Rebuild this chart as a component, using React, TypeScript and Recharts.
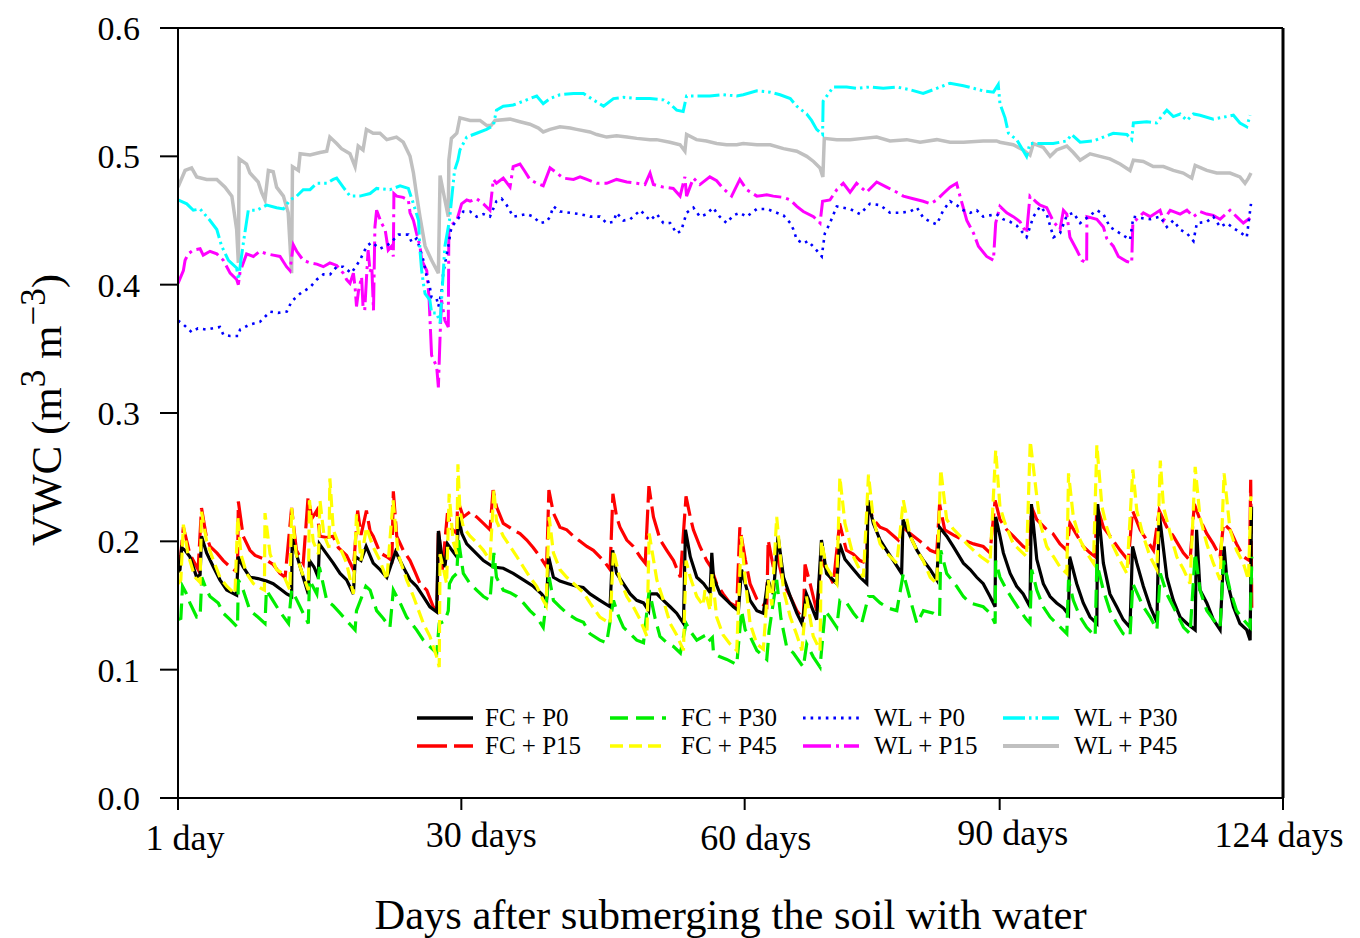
import React from 'react';
import { LineChart, Line, XAxis, YAxis, ReferenceLine, Legend, Label } from 'recharts';

type Pt = [number, number];

// x = record number (0..390), y = VWC (m3 m-3)
const X_TICKS = [0, 100, 200, 290, 390];
const X_TICK_LABELS = ['1 day', '30 days', '60 days', '90 days', '124 days'];
const Y_TICKS = [0, 0.1, 0.2, 0.3, 0.4, 0.5, 0.6];

const FC_P0: Pt[] = [[0,.176],[0.7,.178],[1.3,.195],[2.5,.193],[4.2,.188],[6.6,.172],[7.8,.174],[8.3,.204],[10.1,.191],[12.5,.18],[14.8,.17],[17.2,.162],[20.7,.158],[21.2,.188],[23,.18],[25.4,.172],[28.2,.171],[31.3,.169],[33.6,.167],[36,.163],[38.4,.159],[40.1,.157],[40.3,.202],[41.8,.19],[44.2,.172],[46,.159],[46.4,.185],[48,.18],[49.5,.172],[49.9,.198],[52.5,.19],[54.8,.183],[57.2,.175],[59.5,.17],[61.9,.159],[62.6,.188],[64.6,.185],[66.4,.196],[68.9,.183],[71.3,.178],[73.7,.172],[76.8,.192],[79.5,.18],[81.9,.17],[84.2,.165],[86.6,.157],[88.9,.149],[91.3,.145],[91.9,.208],[93,.19],[94.2,.18],[95.1,.198],[96.7,.193],[98.4,.188],[99,.219],[100.2,.206],[101.9,.198],[104.2,.193],[107.8,.185],[111.3,.18],[114.8,.179],[118.3,.175],[121.9,.17],[125.4,.165],[128.3,.159],[130.1,.154],[130.8,.188],[132.5,.172],[134.8,.169],[137.7,.167],[140.7,.165],[143,.164],[145.4,.159],[148.9,.154],[152.5,.149],[153.4,.193],[154.8,.175],[157.2,.167],[159.6,.159],[161.9,.154],[164.3,.152],[166.1,.146],[166.5,.159],[169,.159],[171.3,.154],[173.7,.149],[176,.144],[178.4,.136],[179.1,.209],[180.8,.188],[183.1,.172],[185.5,.167],[187.8,.16],[188.4,.191],[189,.172],[191.3,.159],[193.7,.154],[196,.149],[197.8,.146],[198.9,.178],[200.2,.167],[201.9,.154],[204.3,.146],[206.6,.144],[208.2,.17],[210.1,.159],[211.8,.204],[213.7,.172],[216.1,.157],[218.4,.144],[220.2,.136],[221.8,.159],[223.6,.149],[225.4,.139],[227.1,.201],[228.9,.175],[232.5,.167],[233.5,.198],[235.4,.186],[238.4,.178],[240.7,.172],[243.1,.167],[243.5,.232],[245.4,.214],[247.8,.201],[250.1,.193],[252.5,.185],[255.4,.175],[255.9,.217],[258.4,.204],[260.8,.193],[263.1,.185],[265.5,.178],[267.8,.17],[268.8,.211],[271.3,.204],[273.6,.196],[277.2,.183],[279.6,.178],[281.9,.172],[284.2,.167],[286.6,.157],[288.4,.149],[288.6,.219],[290.1,.204],[291.3,.191],[293.7,.175],[296,.165],[298.3,.159],[300.7,.149],[301.2,.229],[303.1,.186],[305.4,.167],[307.8,.157],[310.1,.152],[312.5,.148],[314.3,.143],[314.7,.188],[317.2,.167],[319.5,.152],[321.9,.141],[324.3,.136],[324.6,.229],[326.6,.183],[328.9,.159],[331.3,.149],[333.6,.139],[336,.133],[336.9,.196],[338.4,.183],[340.7,.165],[343.1,.149],[345.5,.137],[346.3,.222],[349,.172],[351.3,.154],[353.7,.141],[356.1,.136],[359,.131],[359.5,.209],[360.7,.162],[363.1,.152],[365.4,.139],[367.8,.131],[369.2,.196],[370.2,.17],[372.5,.149],[374.8,.136],[377.2,.131],[378.4,.123],[378.9,.227]];

const FC_P15: Pt[] = [[0,.178],[1,.19],[1.9,.211],[4.2,.19],[7.1,.178],[8.3,.226],[9.9,.205],[11.3,.196],[13.7,.191],[16,.185],[18.9,.179],[21,.176],[21.3,.231],[23,.204],[25.4,.193],[27.2,.189],[30.7,.186],[33.6,.182],[36,.175],[37.8,.172],[40.1,.226],[41.8,.193],[44.2,.183],[45.9,.234],[47.3,.218],[49,.224],[50.1,.204],[52.5,.203],[54.7,.204],[56.6,.195],[59.5,.189],[61.9,.178],[63.4,.224],[64.6,.205],[66.5,.224],[67.8,.208],[68.9,.204],[71.3,.191],[73.7,.188],[75.5,.185],[76,.239],[77.2,.204],[79.5,.193],[81.9,.185],[83.7,.176],[85.4,.167],[87.8,.162],[90.1,.149],[91.4,.146],[91.9,.21],[93.3,.178],[95.1,.222],[96.5,.21],[98.4,.206],[98.7,.232],[100.7,.219],[103.1,.223],[105.4,.219],[107.8,.214],[110.1,.209],[111.2,.24],[112.4,.227],[114.8,.214],[118.3,.209],[120.7,.206],[123.1,.201],[125.4,.195],[127.8,.188],[130.1,.18],[130.9,.24],[132.5,.222],[134.8,.211],[137.2,.209],[139.6,.204],[141.9,.2],[144.3,.196],[146.6,.193],[150.2,.185],[152.5,.178],[153.5,.237],[154.8,.219],[156,.211],[158.4,.201],[160.7,.196],[163.1,.188],[164.9,.183],[166.2,.243],[167.8,.219],[170.2,.201],[172.5,.193],[174.9,.185],[177.3,.172],[179.3,.235],[180.8,.219],[181.9,.209],[184.2,.196],[186.6,.185],[188.1,.18],[190.1,.167],[192.4,.159],[194.8,.152],[197.2,.149],[198.3,.211],[200.2,.186],[201.9,.167],[204.3,.155],[205.5,.152],[207.8,.149],[208.3,.201],[210.1,.18],[211.4,.19],[213.7,.167],[216.1,.157],[218.4,.146],[220.7,.139],[221.3,.182],[223.1,.167],[225.4,.146],[227,.185],[228.9,.178],[231.3,.167],[233.5,.214],[235.9,.193],[238.3,.19],[240.7,.185],[243.1,.183],[243.5,.229],[245.4,.217],[247.8,.211],[250.1,.209],[254.2,.201],[255.9,.211],[258.4,.206],[263.1,.198],[265.5,.193],[267.8,.191],[268.8,.229],[270.6,.209],[273.6,.205],[277.2,.201],[280.8,.198],[284.2,.196],[286.6,.191],[288.4,.232],[290.1,.217],[292.5,.209],[294.8,.204],[298.3,.196],[300.7,.193],[301.2,.227],[303.1,.217],[306.6,.209],[308.8,.206],[311.3,.198],[313.7,.193],[314.8,.214],[317.2,.205],[319.5,.196],[321.9,.191],[323.7,.188],[324.3,.228],[326.6,.211],[329,.204],[332.5,.193],[335.4,.185],[336.9,.224],[339.6,.209],[341.9,.201],[344.3,.193],[346.3,.224],[349,.211],[351.3,.204],[354.8,.191],[357.2,.185],[358.7,.229],[360.7,.217],[363.1,.206],[365.4,.198],[367.8,.188],[369,.214],[371.3,.209],[373.6,.198],[376,.188],[378.2,.185],[378.6,.248],[379,.145]];

const FC_P30: Pt[] = [[0,.139],[1,.14],[1.6,.165],[2.8,.16],[4.2,.152],[6.6,.141],[7.8,.141],[8.4,.172],[10.1,.162],[11.3,.157],[14.2,.152],[16,.144],[18.4,.139],[21,.133],[21.3,.17],[23,.162],[25.4,.146],[28.2,.141],[30.7,.136],[31.2,.162],[33.2,.155],[36,.145],[39,.136],[40.1,.162],[42,.154],[44.2,.144],[46,.136],[46.4,.17],[49,.159],[49.9,.18],[52.5,.154],[54.7,.15],[57.2,.144],[59.6,.138],[62.5,.131],[63,.146],[66.3,.165],[67.8,.162],[70.1,.146],[72.4,.14],[74.8,.133],[76,.162],[78.4,.152],[80.7,.141],[84.2,.131],[86.6,.123],[88.9,.118],[91.3,.113],[92.2,.136],[94.2,.138],[95.4,.146],[95.8,.167],[97,.172],[98.4,.175],[99,.201],[100.7,.175],[103.1,.167],[105.4,.162],[107.8,.157],[110.1,.154],[111.5,.191],[112.4,.172],[114.8,.162],[117.2,.16],[119.6,.157],[121.9,.152],[124.2,.146],[126.6,.141],[128.9,.133],[131,.172],[132.5,.154],[134.8,.149],[137.2,.144],[140.7,.139],[143.1,.137],[145.4,.128],[148.9,.123],[151.3,.121],[153.7,.154],[155.4,.142],[157.2,.133],[159.6,.128],[161.9,.123],[164.3,.121],[166.3,.162],[168.4,.14],[170.1,.126],[172.5,.121],[174.9,.118],[177.3,.113],[179.3,.136],[180.8,.13],[183.1,.123],[185.5,.126],[186.7,.121],[188.6,.125],[189,.113],[191.3,.11],[193.7,.108],[197.2,.104],[198.9,.146],[200.2,.131],[201.9,.126],[204.3,.115],[207.8,.108],[208.6,.13],[211.3,.17],[212.8,.14],[214.8,.118],[217.2,.113],[220.7,.102],[221.9,.12],[224.2,.11],[226.6,.102],[228.4,.146],[230.1,.141],[232.5,.133],[233.6,.154],[236,.152],[238.4,.144],[241.3,.136],[243.7,.157],[245.4,.157],[247.8,.152],[250.6,.148],[253.7,.146],[256,.175],[258.4,.155],[260.8,.136],[263.1,.146],[266.6,.144],[268.8,.141],[269.2,.193],[271.3,.175],[274.8,.165],[277.2,.157],[279.6,.152],[284.2,.149],[286.6,.144],[288.4,.136],[288.6,.185],[290.1,.172],[292.5,.162],[294.8,.154],[297.2,.146],[299.5,.139],[300.7,.136],[301.3,.178],[303.1,.162],[305.4,.149],[307.8,.141],[310.1,.136],[313.7,.128],[314.3,.17],[316,.154],[318.4,.141],[320.7,.133],[323.7,.126],[324.3,.183],[326.6,.162],[328.9,.146],[331.3,.136],[333.6,.128],[336,.126],[337,.167],[340.7,.149],[343.1,.141],[345.5,.131],[346.7,.175],[349,.159],[351.3,.149],[354.9,.133],[357.2,.128],[359,.191],[360.7,.162],[363.1,.146],[365.4,.139],[367.8,.133],[369,.185],[371.3,.162],[373.6,.146],[376,.139],[378.4,.133],[379,.188]];

const FC_P45: Pt[] = [[0,.167],[1,.17],[1.9,.213],[3.5,.19],[6,.172],[7.8,.168],[8.3,.223],[10.1,.2],[12.5,.185],[14.8,.172],[17.2,.165],[20.1,.159],[21.1,.219],[22.2,.19],[24.2,.175],[26.6,.167],[28.9,.164],[30.5,.162],[30.7,.222],[32.5,.19],[34.8,.178],[37,.175],[39.5,.162],[40.1,.226],[41.7,.19],[43.1,.18],[46,.162],[46.4,.232],[47.7,.2],[49.6,.19],[50.1,.232],[51.5,.205],[53.3,.195],[53.6,.249],[54.8,.209],[57.2,.195],[59.5,.183],[61.9,.159],[63,.221],[64.6,.185],[66.5,.211],[68.8,.196],[71.3,.185],[73.7,.17],[75.9,.232],[77.7,.19],[80.7,.17],[83.1,.157],[86.6,.136],[88.9,.126],[91.3,.11],[92.2,.102],[92.5,.19],[94.8,.167],[95.7,.237],[97.1,.2],[98.4,.19],[98.8,.26],[99.5,.224],[100.7,.211],[103.1,.204],[105.4,.199],[107.8,.193],[110.1,.185],[111.5,.24],[112.4,.216],[114.8,.204],[117.2,.196],[119.6,.188],[121.9,.18],[124.2,.172],[126.6,.165],[128.9,.154],[129.9,.15],[131,.219],[132.5,.191],[134.8,.178],[137.2,.172],[140.7,.165],[143.1,.16],[145.4,.152],[148.9,.141],[152.5,.136],[153.7,.193],[156,.17],[158.4,.157],[160.7,.149],[163.1,.139],[165.5,.126],[166.3,.206],[169,.17],[171.3,.154],[173.7,.136],[176,.127],[178.4,.115],[179.3,.185],[180.8,.172],[183.1,.157],[185.3,.15],[186,.162],[187.8,.146],[188.5,.175],[190.1,.141],[192.4,.127],[194.8,.12],[197.2,.115],[198.8,.204],[200.2,.17],[201.9,.136],[204.3,.12],[206.6,.116],[208.3,.17],[209.6,.15],[211.3,.219],[213.7,.162],[216.1,.141],[218.4,.127],[220.2,.115],[221.8,.157],[224.2,.126],[226.6,.115],[227.1,.2],[228.9,.18],[232.5,.167],[233.6,.25],[235.4,.214],[238.4,.188],[241.9,.172],[243.7,.252],[245.4,.217],[247.8,.198],[250.1,.191],[253.7,.183],[256,.232],[258.4,.204],[260.8,.193],[263,.185],[265.5,.172],[267.8,.167],[269.2,.256],[271.3,.217],[273.5,.21],[276,.204],[278.4,.198],[280.8,.193],[283.4,.188],[286.6,.183],[288.6,.271],[290.1,.227],[291.9,.214],[294.8,.198],[297.2,.193],[299.5,.188],[300.8,.278],[303.1,.235],[304.3,.214],[306.6,.196],[309,.188],[311.3,.18],[313.7,.175],[314.3,.253],[316,.219],[318.4,.201],[320.7,.191],[323.1,.183],[324.3,.275],[326.1,.227],[327.8,.211],[330.1,.196],[332.5,.185],[334.9,.175],[337,.256],[338.4,.224],[340.7,.204],[343.1,.188],[345.5,.178],[346.7,.263],[347.8,.227],[350.2,.206],[352.5,.188],[354.9,.178],[357.2,.167],[359,.258],[360.7,.219],[363.1,.198],[365.4,.183],[367.8,.17],[369.2,.253],[371.3,.209],[373.6,.193],[376,.183],[377.8,.17],[378.7,.235]];

const WL_P0: Pt[] = [[0,.372],[1.9,.369],[4.8,.363],[7,.366],[10.1,.365],[12.4,.366],[14.8,.367],[16,.361],[18.4,.36],[21.3,.36],[21.9,.365],[25.4,.369],[28.9,.371],[32.5,.379],[35.3,.378],[38.4,.379],[40.1,.387],[43.1,.393],[46.6,.398],[49,.404],[51.3,.408],[53.7,.408],[56,.414],[58.3,.414],[61.2,.409],[64.2,.419],[66.6,.43],[68.4,.433],[71.3,.428],[74.8,.432],[77.8,.439],[81.3,.439],[82.5,.433],[84.2,.436],[85.4,.428],[86.6,.419],[87.8,.406],[88.9,.398],[89.5,.39],[91.3,.389],[91.9,.383],[93,.394],[93.6,.409],[95.4,.43],[96.5,.445],[98.4,.45],[100.7,.457],[103.1,.457],[105.4,.453],[107.8,.455],[110.1,.453],[112.4,.465],[114.2,.467],[116,.462],[118.3,.453],[120.7,.454],[123.1,.455],[125.4,.453],[127.8,.448],[130.1,.449],[131.3,.453],[132.5,.461],[134.8,.457],[138.4,.456],[141.9,.455],[145.4,.453],[148.9,.453],[151.3,.448],[153.7,.449],[154.8,.456],[157.2,.45],[159.6,.451],[163.2,.458],[166.6,.45],[169,.455],[171.3,.448],[173.7,.448],[176,.44],[177.6,.442],[179.5,.456],[181.9,.46],[184.2,.453],[186.6,.455],[188.8,.46],[191.2,.453],[193.6,.448],[196,.454],[198.3,.456],[200.7,.453],[204.3,.459],[207.8,.459],[211.3,.456],[213.7,.454],[216.1,.448],[217.2,.443],[218.4,.435],[220.7,.432],[222.4,.434],[224.9,.428],[227.2,.422],[228.3,.44],[230.1,.448],[232.5,.461],[234.8,.46],[237.2,.459],[240.7,.455],[244.2,.463],[247.8,.462],[251.3,.456],[254.8,.456],[258.4,.457],[260.8,.46],[263.1,.452],[265.5,.449],[267.8,.447],[270.1,.458],[272.5,.465],[274.8,.462],[277.2,.458],[279.6,.456],[281.9,.458],[284.2,.453],[286.6,.454],[288.9,.455],[291.2,.451],[293.7,.449],[296,.446],[299.5,.437],[301.9,.453],[304.3,.461],[306.6,.455],[309,.437],[311.3,.44],[313.7,.454],[316,.456],[318.4,.448],[320.7,.452],[324.3,.458],[326.6,.455],[328.9,.445],[332.5,.44],[336,.435],[337.2,.453],[339.6,.452],[343.1,.451],[346.6,.453],[349,.445],[351.3,.45],[353.7,.443],[356.1,.44],[358.4,.434],[359.6,.448],[363.1,.449],[365.4,.453],[367.8,.445],[370.2,.448],[372.5,.444],[374.8,.441],[377.2,.437],[378.7,.463]];

const WL_P15: Pt[] = [[0,.401],[1.9,.411],[2.5,.419],[3.6,.424],[5.4,.427],[7.8,.428],[8.9,.423],[11.3,.426],[13.7,.424],[16,.419],[18.4,.409],[20.7,.404],[21.3,.4],[21.9,.41],[24.2,.424],[26.6,.422],[28.9,.426],[31.3,.424],[33.6,.423],[36,.422],[38.3,.414],[39.5,.411],[40.7,.431],[41.9,.426],[44.2,.419],[46.6,.417],[49,.416],[51.3,.414],[53.6,.417],[56,.415],[58.3,.409],[59.5,.404],[60.7,.401],[61.9,.409],[62.5,.398],[63,.383],[63.7,.395],[64.8,.406],[65.3,.383],[65.9,.38],[66.5,.404],[67.1,.427],[67.8,.41],[68.4,.414],[69,.38],[69.5,.445],[70.1,.458],[71.8,.448],[73.1,.443],[74.2,.427],[75.4,.43],[76,.422],[76.2,.471],[77.2,.469],[79.4,.468],[81.3,.466],[81.9,.456],[83.1,.45],[84.2,.44],[85.4,.43],[86,.419],[87.8,.411],[88.6,.39],[89.5,.345],[91.3,.336],[91.9,.32],[92.5,.36],[93,.388],[94.2,.372],[95.4,.367],[95.6,.445],[98.4,.45],[100.1,.463],[101.9,.466],[103.1,.465],[105.4,.467],[107.8,.463],[110.1,.458],[111.3,.482],[112.4,.479],[114.8,.483],[117.2,.476],[118.3,.492],[120.7,.494],[122.5,.488],[124.2,.482],[126.6,.479],[128.9,.477],[131.3,.491],[133.7,.487],[136,.483],[139.6,.482],[141.9,.484],[144.3,.482],[147.8,.479],[151.3,.479],[154.8,.482],[158.4,.48],[161.9,.479],[164.8,.478],[166.6,.487],[167.8,.478],[171.3,.476],[174.8,.475],[177.2,.469],[178.9,.484],[179.5,.469],[181.9,.483],[184.2,.478],[187.7,.484],[190.1,.481],[192.4,.475],[195.4,.469],[198.3,.482],[200.7,.474],[204.3,.469],[207.8,.47],[210.1,.469],[213.7,.468],[216.1,.466],[218.4,.461],[220.7,.457],[224.3,.453],[226.6,.448],[227.5,.465],[230.1,.466],[232.5,.474],[234.8,.479],[237.2,.472],[239.5,.479],[243,.472],[246.6,.48],[250.1,.476],[253.7,.472],[256,.469],[259.5,.467],[263,.465],[265.5,.463],[267.8,.466],[270.1,.471],[272.5,.476],[274.8,.479],[276,.469],[278.4,.45],[280.8,.44],[282.5,.43],[285.4,.422],[287.8,.419],[288.6,.448],[290.1,.461],[292.5,.456],[294.8,.453],[297.2,.449],[299.5,.44],[300.7,.469],[303.1,.464],[304.3,.462],[306.6,.46],[309,.449],[311.3,.443],[312.5,.458],[313.7,.455],[314.8,.437],[317.2,.427],[319,.419],[320.7,.417],[320.8,.453],[324.3,.451],[326.6,.445],[327.8,.436],[330.1,.43],[331.9,.422],[334.9,.418],[336.6,.417],[337,.448],[338.4,.451],[340.7,.456],[343.1,.453],[346.6,.458],[347.8,.45],[350.2,.458],[353.7,.455],[356.1,.458],[358.4,.453],[360.7,.457],[363.1,.455],[365.4,.454],[367.8,.451],[371.3,.458],[373.6,.453],[376,.448],[378.4,.452]];

const WL_P30: Pt[] = [[0,.466],[3.1,.463],[5.4,.458],[7.8,.459],[11.3,.45],[13.7,.443],[15.4,.43],[17.8,.419],[20.7,.413],[21.3,.404],[22.9,.43],[24.8,.458],[27.8,.458],[31.3,.462],[34.8,.46],[37.2,.459],[39.5,.466],[41.9,.469],[44.2,.474],[46.6,.474],[49,.479],[52.5,.479],[54.8,.482],[56,.483],[58.3,.476],[60.7,.469],[64.2,.469],[67.8,.471],[70.1,.475],[74.8,.474],[78.4,.477],[81.3,.475],[83.1,.463],[84.9,.45],[85.4,.427],[86,.411],[86.6,.401],[87.2,.393],[88.9,.388],[89.5,.378],[91.3,.378],[92.5,.37],[94.2,.43],[95.8,.45],[97.6,.489],[98.8,.497],[99.5,.505],[101.9,.515],[105.4,.518],[108.9,.521],[111.3,.524],[112.4,.536],[114.8,.539],[118.3,.54],[121.9,.543],[126.6,.547],[128.9,.541],[131.3,.545],[134.8,.548],[139.6,.549],[143.1,.549],[146.6,.544],[150.2,.539],[153.7,.545],[157.2,.546],[161.9,.545],[166.6,.545],[171.3,.544],[173.6,.541],[176,.536],[178.3,.535],[179.5,.547],[184.2,.547],[187.7,.547],[192.4,.548],[197.2,.547],[199.5,.548],[204.3,.551],[209,.55],[212.5,.548],[216.1,.545],[218.4,.539],[221.9,.533],[223.6,.528],[225.4,.521],[227.5,.517],[227.7,.543],[231.3,.554],[236,.554],[239.5,.553],[244.2,.554],[248.9,.553],[253.7,.554],[258.3,.552],[263,.549],[267.8,.553],[272.5,.557],[277.2,.555],[280.8,.553],[284.2,.551],[287.8,.55],[289.5,.556],[290.1,.541],[291.9,.53],[293.1,.518],[296,.513],[299.5,.5],[300.7,.51],[305.4,.51],[308.9,.51],[313.7,.512],[315.4,.517],[318.4,.511],[323.1,.512],[326.6,.515],[330.1,.518],[334.9,.517],[336.6,.513],[337.2,.526],[341.9,.527],[345.4,.526],[347.8,.533],[349,.536],[351.3,.531],[353.7,.533],[356.1,.528],[358.4,.533],[360.7,.532],[365.4,.529],[370.2,.531],[372.5,.532],[374.8,.526],[377.2,.523],[378.4,.532]];

const WL_P45: Pt[] = [[0,.476],[2.5,.489],[4.8,.491],[6.6,.484],[10.1,.482],[13.7,.482],[16.6,.476],[19,.469],[20.7,.443],[21.3,.417],[21.6,.498],[24.2,.494],[25.4,.487],[28.3,.48],[29.5,.472],[30.7,.466],[31.9,.489],[33.6,.488],[34.8,.476],[37.2,.469],[38.9,.456],[40.1,.409],[40.4,.492],[42.5,.489],[43.1,.502],[46.6,.501],[50.1,.503],[52.5,.504],[53.6,.515],[56,.51],[57.7,.506],[60.7,.502],[62.5,.492],[63.6,.508],[65.3,.505],[66.5,.521],[68.9,.518],[71.3,.518],[73.7,.513],[77.1,.515],[79.5,.511],[81.9,.5],[83.1,.487],[84.2,.47],[85.4,.453],[87.2,.43],[89.5,.419],[91.9,.409],[92.5,.485],[94.2,.466],[95.4,.453],[95.6,.497],[96.5,.514],[98.4,.518],[99.5,.53],[103.1,.528],[106.6,.528],[109,.524],[110.5,.524],[111.9,.528],[117.2,.529],[120.7,.527],[124.2,.525],[127.2,.522],[128.9,.519],[131.3,.521],[134.8,.523],[138.4,.522],[140.7,.521],[145.4,.519],[147.8,.517],[151.3,.515],[154.8,.516],[158.4,.515],[161.9,.514],[166.6,.513],[168.9,.513],[173.6,.511],[177.2,.509],[178.9,.504],[179.5,.517],[183,.513],[186.5,.512],[190.1,.51],[193.6,.509],[197.2,.509],[199.5,.51],[204.3,.509],[209,.509],[213.7,.506],[218.4,.504],[221.9,.5],[224.3,.496],[226.6,.491],[227.6,.484],[228.1,.514],[232.5,.513],[237.2,.513],[241.9,.514],[246.6,.515],[251.3,.512],[257.2,.513],[261.9,.511],[267.8,.513],[272.5,.511],[277.2,.511],[284.2,.512],[288.9,.512],[290.1,.511],[294.8,.509],[298.3,.505],[300.7,.501],[301.9,.51],[305.4,.507],[307.8,.5],[310.1,.505],[313.7,.508],[316,.503],[318.4,.497],[321.9,.502],[325.4,.5],[328.9,.498],[332.5,.494],[336,.489],[337.2,.497],[340.7,.496],[344.2,.492],[347.8,.492],[351.3,.489],[354.8,.487],[357.8,.483],[359,.493],[363.1,.489],[366.6,.487],[371.3,.487],[374.8,.484],[376.6,.479],[377.8,.483],[378.7,.487]];

const FONT = '"Liberation Serif", "Times New Roman", Times, serif';

interface SeriesDef { name: string; data: Pt[]; stroke: string; width: number; dash?: string }

// drawing order (bottom to top)
const SERIES: SeriesDef[] = [
  { name: 'WL + P45', data: WL_P45, stroke: '#c0c0c0', width: 3.5 },
  { name: 'WL + P15', data: WL_P15, stroke: '#ff00ff', width: 3, dash: '28 5 3 5' },
  { name: 'WL + P0', data: WL_P0, stroke: '#0000ff', width: 2.6, dash: '2.6 5' },
  { name: 'WL + P30', data: WL_P30, stroke: '#00ffff', width: 3, dash: '22 4 2.5 4 2.5 4' },
  { name: 'FC + P15', data: FC_P15, stroke: '#ff0000', width: 3.2, dash: '30 7' },
  { name: 'FC + P0', data: FC_P0, stroke: '#000000', width: 3.2 },
  { name: 'FC + P30', data: FC_P30, stroke: '#00ee00', width: 3.2, dash: '18 8' },
  { name: 'FC + P45', data: FC_P45, stroke: '#ffff00', width: 3.2, dash: '13 6' },
];

const LEGEND_ORDER = ['FC + P0', 'FC + P15', 'FC + P30', 'FC + P45', 'WL + P0', 'WL + P15', 'WL + P30', 'WL + P45'];
const LEGEND_COL_X = [417, 610, 803, 1003];
const LEGEND_TEXT_X = [485, 681, 874, 1074];
const LEGEND_ROW_Y = [23, 51];
const X_TICK_DX = [7, 20, 11, 13, -4];
const X_TICK_DY = [2, -1, 2, -3, -1];

const XTick = (props: any) => {
  const { x, y, payload } = props;
  const i = X_TICKS.indexOf(payload.value);
  return (
    <text x={x + (X_TICK_DX[i] || 0)} y={y + 36 + (X_TICK_DY[i] || 0)} textAnchor="middle" fontFamily={FONT} fontSize={36} fill="#000">
      {X_TICK_LABELS[i]}
    </text>
  );
};

const YTitle = (props: any) => {
  const vb = props.viewBox || { x: 0, y: 28, width: 178, height: 770 };
  const cx = vb.x + 61;
  const cy = vb.y + vb.height / 2 - 3;
  return (
    <text x={cx} y={cy} transform={`rotate(-90, ${cx}, ${cy})`} textAnchor="middle" fontFamily={FONT} fontSize={43} fill="#000">
      VWC (m<tspan fontSize={35} dy={-16}>3</tspan>
      <tspan dy={16}> m</tspan>
      <tspan fontSize={35} dy={-16}>−3</tspan>
      <tspan dy={16}>)</tspan>
    </text>
  );
};

const XTitle = (props: any) => {
  const vb = props.viewBox || { x: 178, y: 798, width: 1105, height: 60 };
  return (
    <text x={vb.x + vb.width / 2} y={vb.y + vb.height + 71} textAnchor="middle" fontFamily={FONT} fontSize={42.5} fill="#000">
      Days after submerging the soil with water
    </text>
  );
};

const LegendBox = () => (
  <svg width={1360} height={80} style={{ display: 'block' }}>
    {LEGEND_ORDER.map((name, i) => {
      const s = SERIES.find((d) => d.name === name)!;
      const col = Math.floor(i / 2);
      const row = i % 2;
      const y = LEGEND_ROW_Y[row];
      return (
        <g key={name}>
          <line x1={LEGEND_COL_X[col]} x2={LEGEND_COL_X[col] + 56} y1={y} y2={y} stroke={s.stroke} strokeWidth={s.width + 0.5} strokeDasharray={s.dash} />
          <text x={LEGEND_TEXT_X[col]} y={y + 8} fontFamily={FONT} fontSize={25} fill="#000">{name}</text>
        </g>
      );
    })}
  </svg>
);

export default function App() {
  return (
    <div style={{ position: 'absolute', left: 0, top: 0, width: 1360, height: 938, background: '#fff' }}>
      <LineChart width={1360} height={938} margin={{ top: 28, right: 77, bottom: 80, left: 0 }}>
        <XAxis
          dataKey="x"
          type="number"
          domain={[0, 390]}
          ticks={X_TICKS}
          interval={0}
          tickSize={12}
          tick={<XTick />}
          axisLine={{ stroke: '#000', strokeWidth: 2 }}
          tickLine={{ stroke: '#000', strokeWidth: 2 }}
          height={60}
          allowDataOverflow
        >
          <Label content={<XTitle />} />
        </XAxis>
        <YAxis
          type="number"
          domain={[0, 0.6]}
          ticks={Y_TICKS}
          interval={0}
          width={178}
          tickSize={18}
          tickMargin={20}
          tickFormatter={(v: number) => v.toFixed(1)}
          tick={{ fontFamily: FONT, fontSize: 34, fill: '#000' }}
          axisLine={{ stroke: '#000', strokeWidth: 2 }}
          tickLine={{ stroke: '#000', strokeWidth: 2 }}
          allowDataOverflow
        >
          <Label content={<YTitle />} />
        </YAxis>
        <ReferenceLine y={0.6} stroke="#000" strokeWidth={2} />
        <ReferenceLine x={390} stroke="#000" strokeWidth={3} />
        {SERIES.map((s) => (
          <Line
            key={s.name}
            name={s.name}
            data={s.data.map(([x, y]) => ({ x, y }))}
            dataKey="y"
            type="linear"
            stroke={s.stroke}
            strokeWidth={s.width}
            strokeDasharray={s.dash}
            dot={false}
            activeDot={false}
            isAnimationActive={false}
          />
        ))}
        <Legend
          layout="horizontal"
          verticalAlign="middle"
          align="center"
          wrapperStyle={{ left: 0, top: 695, width: 1360, height: 80 }}
          content={() => <LegendBox />}
        />
      </LineChart>
    </div>
  );
}
